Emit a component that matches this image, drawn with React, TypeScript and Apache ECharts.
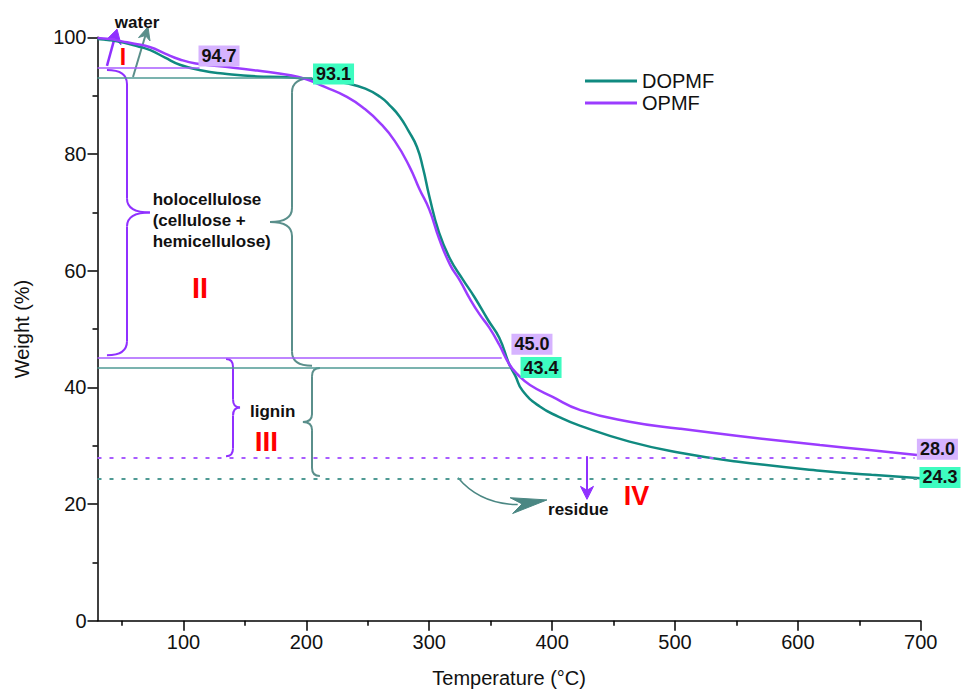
import React, { useEffect, useRef } from "react";
import * as echarts from "echarts";

// ---- data ----
const opmfTemps = [30, 40, 50, 60, 73, 85, 97, 110, 132, 160, 187, 200, 215, 233, 247, 260, 272, 284, 292, 300, 308, 317, 325, 333, 341, 349, 357, 365, 372, 382, 400, 423, 463, 504, 550, 618, 660, 697];
const opmfWeights = [99.9, 99.7, 99.3, 98.9, 98.3, 97.2, 96.2, 95.5, 95.0, 94.3, 93.5, 92.8, 91.5, 89.8, 87.8, 85.3, 82.2, 77.8, 74.0, 70.5, 65.5, 61.0, 58.3, 55.2, 52.5, 50.2, 47.3, 44.0, 42.2, 40.4, 38.4, 36.1, 34.1, 32.9, 31.7, 30.1, 29.2, 28.4];
const dopmfTemps = [30, 40, 51, 62, 73, 85, 97, 115, 132, 160, 180, 200, 215, 233, 248, 260, 268, 276, 283, 290, 295, 300, 308, 317, 327, 337, 348, 357, 365, 370, 376, 390, 405, 423, 463, 504, 550, 618, 660, 700];
const dopmfWeights = [99.7, 99.5, 99.1, 98.5, 97.8, 96.5, 95.3, 94.3, 93.8, 93.3, 93.2, 92.9, 92.6, 92.1, 91.2, 89.8, 88.3, 86.4, 84.0, 81.2, 77.5, 72.8, 66.5, 62.0, 58.6, 55.4, 51.5, 48.5, 44.0, 42.0, 39.4, 36.7, 35.0, 33.4, 30.7, 28.8, 27.3, 25.7, 25.0, 24.4];

// characteristic levels (weight %) and where their guide lines end (°C)
const opmfLevels = [94.7, 45.0, 28.0];
const dopmfLevels = [93.1, 43.4, 24.3];
const opmfLevelEnds = [113, 359, 695];
const dopmfLevelEnds = [205, 365.7, 697];

const xMajorTicks = [100, 200, 300, 400, 500, 600, 700];
const xMinorTicks = [50, 150, 250, 350, 450, 550, 650];

const TEAL = "#108a80";
const PURPLE = "#9b3cff";
const TEAL_LINE = "#4f9a94";
const PURPLE_LINE = "#a95cff";
const TEAL_BRACE = "#5a8f8b";
const PURPLE_BRACE = "#9030ff";
const GREEN_BG = "#3dfcc0";
const LILAC_BG = "#d6b3ff";
const FONT = "'Liberation Sans', Arial, sans-serif";

export default function App() {
  const ref = useRef<HTMLDivElement>(null);
  useEffect(() => {
    if (!ref.current) return;
    const chart = echarts.init(ref.current, null, { renderer: "svg" });
    const pairs = (ts: number[], ws: number[]) => ts.map((t, i) => [t, ws[i]]);
    const levelLines = (levels: number[], ends: number[], color: string) =>
      levels.map((v, i) => [
        {
          coord: [30, v],
          lineStyle: i === 2 ? { type: [4, 8], width: 2, color } : { type: "solid", width: 1.5, color },
        },
        { coord: [ends[i], v] },
      ]);

    const option: any = {
      animation: false,
      grid: { left: 97.5, right: 41.3, top: 37.3, bottom: 71.3, outerBoundsMode: "none" },
      legend: {
        left: 580,
        top: 66,
        orient: "vertical",
        icon: "rect",
        itemWidth: 52,
        itemHeight: 3,
        itemGap: 2,
        textStyle: { fontSize: 20, color: "#111", fontFamily: FONT },
        data: ["DOPMF", "OPMF"],
      },
      xAxis: [
        {
          type: "value",
          min: 30,
          max: 700,
          name: "Temperature (°C)",
          nameLocation: "middle",
          nameGap: 47,
          nameTextStyle: { fontSize: 20, color: "#111", fontFamily: FONT },
          axisLine: { show: true, onZero: false, lineStyle: { color: "#000", width: 1.5 } },
          axisTick: { show: true, inside: false, length: 10, customValues: xMajorTicks, lineStyle: { color: "#000", width: 1.5 } },
          axisLabel: { show: true, customValues: xMajorTicks, fontSize: 20, color: "#111", margin: 11, fontFamily: FONT },
          splitLine: { show: false },
        },
        {
          type: "value",
          min: 30,
          max: 700,
          position: "bottom",
          axisLine: { show: false, onZero: false },
          axisTick: { show: true, inside: false, length: 5, customValues: xMinorTicks, lineStyle: { color: "#000", width: 1.5 } },
          axisLabel: { show: false },
          splitLine: { show: false },
        },
      ],
      yAxis: {
        type: "value",
        min: 0,
        max: 100,
        interval: 20,
        name: "Weight (%)",
        nameLocation: "middle",
        nameGap: 66,
        nameTextStyle: { fontSize: 20, color: "#111", fontFamily: FONT },
        axisLine: { show: true, lineStyle: { color: "#000", width: 1.5 } },
        axisTick: { show: true, inside: false, length: 10, lineStyle: { color: "#000", width: 1.5 } },
        minorTick: { show: true, splitNumber: 2, length: 5, lineStyle: { color: "#000", width: 1.5 } },
        axisLabel: { fontSize: 20, color: "#111", margin: 11, fontFamily: FONT },
        splitLine: { show: false },
      },
      series: [
        {
          name: "DOPMF",
          type: "line",
          data: pairs(dopmfTemps, dopmfWeights),
          showSymbol: false,
          symbol: "none",
          smooth: 0.5,
          lineStyle: { color: TEAL, width: 2.5 },
          itemStyle: { color: TEAL },
          z: 3,
          markLine: {
            silent: true,
            symbol: ["none", "none"],
            label: { show: false },
            lineStyle: { color: TEAL_LINE, width: 1.5, type: "solid" },
            data: levelLines(dopmfLevels, dopmfLevelEnds, TEAL_LINE),
          },
        },
        {
          name: "OPMF",
          type: "line",
          data: pairs(opmfTemps, opmfWeights),
          showSymbol: false,
          symbol: "none",
          smooth: 0.5,
          lineStyle: { color: PURPLE, width: 2.5 },
          itemStyle: { color: PURPLE },
          z: 3,
          markLine: {
            silent: true,
            symbol: ["none", "none"],
            label: { show: false },
            lineStyle: { color: PURPLE_LINE, width: 1.5, type: "solid" },
            data: levelLines(opmfLevels, opmfLevelEnds, PURPLE_LINE),
          },
        },
      ],
    };
    chart.setOption(option);

    const P = (t: number, w: number) => chart.convertToPixel({ seriesIndex: 0 }, [t, w]) as number[];

    const brace = (ex: number, vx: number, tx: number, top: number, bottom: number, r: number, color: string) => {
      const a = P(ex, top), b = P(vx, top), c = P(tx, top), d = P(ex, bottom);
      const X = a[0], V = b[0], T = c[0];
      const y1 = a[1], y2 = d[1], ym = (y1 + y2) / 2;
      const style = { stroke: color, lineWidth: 2, fill: "none" };
      return [
        { type: "bezierCurve", shape: { x1: X, y1: y1, x2: V, y2: y1 + r, cpx1: V, cpy1: y1 }, style },
        { type: "line", shape: { x1: V, y1: y1 + r, x2: V, y2: ym - r }, style },
        { type: "bezierCurve", shape: { x1: V, y1: ym - r, x2: T, y2: ym, cpx1: V, cpy1: ym }, style },
        { type: "bezierCurve", shape: { x1: T, y1: ym, x2: V, y2: ym + r, cpx1: V, cpy1: ym }, style },
        { type: "line", shape: { x1: V, y1: ym + r, x2: V, y2: y2 - r }, style },
        { type: "bezierCurve", shape: { x1: V, y1: y2 - r, x2: X, y2: y2, cpx1: V, cpy1: y2 }, style },
      ];
    };

    const head = (from: number[], tip: number[], L: number, h: number, color: string) => {
      const dx = tip[0] - from[0], dy = tip[1] - from[1];
      const len = Math.sqrt(dx * dx + dy * dy) || 1;
      const ux = dx / len, uy = dy / len;
      const nx = -uy, ny = ux;
      const bx = tip[0] - ux * L, by = tip[1] - uy * L;
      return {
        type: "polygon",
        shape: {
          points: [
            [tip[0], tip[1]],
            [bx + nx * h, by + ny * h],
            [bx + ux * L * 0.3, by + uy * L * 0.3],
            [bx - nx * h, by - ny * h],
          ],
        },
        style: { fill: color, stroke: color, lineWidth: 1 },
      };
    };

    const arrow = (t1: number, w1: number, t2: number, w2: number, color: string, width: number, L: number, h: number) => {
      const a = P(t1, w1), b = P(t2, w2);
      const dx = b[0] - a[0], dy = b[1] - a[1];
      const len = Math.sqrt(dx * dx + dy * dy);
      const e = [b[0] - (dx / len) * L * 0.7, b[1] - (dy / len) * L * 0.7];
      return [
        { type: "line", shape: { x1: a[0], y1: a[1], x2: e[0], y2: e[1] }, style: { stroke: color, lineWidth: width } },
        head(a, b, L, h, color),
      ];
    };

    const text = (t: number, w: number, s: string, opts: any) => {
      const p = P(t, w);
      return { type: "text", x: p[0], y: p[1], z: 10, style: { text: s, fontFamily: FONT, ...opts } };
    };

    const valueBox = (t: number, w: number, v: number, bg: string) =>
      text(t, w, v.toFixed(1), {
        fontSize: 18,
        fontWeight: "bold",
        fill: "#111",
        backgroundColor: bg,
        padding: [2, 3, 1, 3],
        align: "center",
        verticalAlign: "middle",
      });

    // residue curved arrow
    const r0 = P(323.4, 24.5), r1 = P(341.3, 20.0), r2 = P(372, 19.9), rTip = P(395.8, 20.7);

    const graphic: any[] = [
      ...brace(37.7, 54, 72.7, 94.4, 45.5, 14, PURPLE_BRACE),
      ...brace(204.6, 188.3, 170.4, 93.0, 43.7, 14, TEAL_BRACE),
      ...brace(134.6, 140.3, 146.0, 44.85, 28.2, 8, PURPLE_BRACE),
      ...brace(211, 204.6, 197.2, 43.3, 24.8, 8, TEAL_BRACE),
      ...arrow(37.7, 95.1, 45.9, 101.4, PURPLE_BRACE, 2.5, 14, 8),
      ...arrow(58.9, 93.2, 71.1, 101.8, TEAL_BRACE, 2, 13, 6),
      ...arrow(428.4, 28.2, 428.4, 20.8, PURPLE_BRACE, 2, 13, 6.5),
      {
        type: "bezierCurve",
        shape: { x1: r0[0], y1: r0[1], cpx1: r1[0], cpy1: r1[1], x2: r2[0], y2: r2[1] },
        style: { stroke: "#4b8783", lineWidth: 1.5, fill: "none" },
      },
      head(r2, rTip, 36, 8, "#4b8783"),
      text(62.2, 102.6, "water", { fontSize: 17, fontWeight: "bold", fill: "#111", align: "center", verticalAlign: "middle" }),
      text(50.8, 96.6, "I", { fontSize: 23, fontWeight: "bold", fill: "#ff0000", align: "center", verticalAlign: "middle" }),
      text(74.9, 68.6, "holocellulose\n(cellulose +\nhemicellulose)", {
        fontSize: 17,
        fontWeight: "bold",
        fill: "#111",
        lineHeight: 21,
        align: "left",
        verticalAlign: "middle",
      }),
      text(113.4, 57.0, "II", { fontSize: 29, fontWeight: "bold", fill: "#ff0000", align: "center", verticalAlign: "middle" }),
      text(154.1, 35.8, "lignin", { fontSize: 17, fontWeight: "bold", fill: "#111", align: "left", verticalAlign: "middle" }),
      text(167.5, 30.8, "III", { fontSize: 28, fontWeight: "bold", fill: "#ff0000", align: "center", verticalAlign: "middle" }),
      text(396.7, 19.1, "residue", { fontSize: 17, fontWeight: "bold", fill: "#111", align: "left", verticalAlign: "middle" }),
      text(468.7, 21.4, "IV", { fontSize: 27, fontWeight: "bold", fill: "#ff0000", align: "center", verticalAlign: "middle" }),
      valueBox(128.9, 96.8, opmfLevels[0], LILAC_BG),
      valueBox(222.1, 93.7, dopmfLevels[0], GREEN_BG),
      valueBox(383.6, 47.4, opmfLevels[1], LILAC_BG),
      valueBox(391.0, 43.4, dopmfLevels[1], GREEN_BG),
      valueBox(713.6, 29.4, opmfLevels[2], LILAC_BG),
      valueBox(715.7, 24.55, dopmfLevels[2], GREEN_BG),
    ];
    chart.setOption({ graphic });

    return () => chart.dispose();
  }, []);
  return (
    <div
      ref={ref}
      style={{ position: "fixed", left: 0, top: 0, width: 962, height: 692, background: "#fff" }}
    />
  );
}
